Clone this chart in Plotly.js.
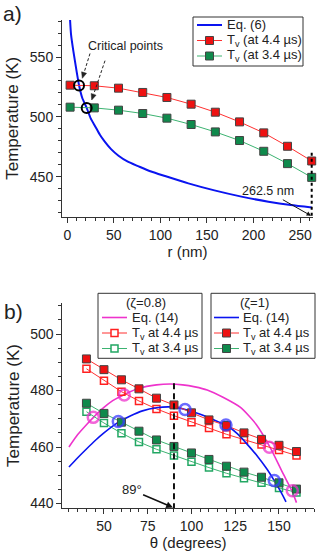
<!DOCTYPE html>
<html>
<head>
<meta charset="utf-8">
<script src="https://cdn.plot.ly/plotly-3.0.1.min.js"></script>
<style>
html,body{margin:0;padding:0;background:#fff;}
#chart{width:319px;height:554px;}
</style>
</head>
<body>
<div id="chart"></div>
<script>
// ---------- Panel a data ----------
const rA = [3, 29, 55, 81, 107, 133, 159, 185, 211, 236.5, 262.5];
const tv44A = [526.5, 526, 524, 520.4, 516.2, 510.6, 503.9, 495.8, 486.6, 475.4, 463.1];
const tv34A = [508.1, 507.5, 505.6, 502.8, 498.9, 493.6, 487.4, 480.2, 471.2, 460.9, 449.4];
const eq6R = [2.6, 4, 6.5, 10, 12.6, 16, 20.8, 25, 30, 35, 40, 47, 55, 65, 76, 90, 105, 130, 158, 187, 216, 240, 262.5];
const eq6T = [586, 569, 555, 538, 526.5, 516, 507.5, 499, 492, 485, 479.5, 473, 467.5, 462.5, 458.8, 454.3, 450.5, 444.4, 438.5, 433.3, 429, 426.2, 424.2];
const critR = [12.6, 20.8];
const critT = [526.3, 507.5];

// ---------- Panel b data ----------
const thetaB = [40, 50, 60, 70, 80, 90, 100, 110, 120, 130, 140, 150, 160];
const tv44Z1 = [491.2, 487.4, 483.8, 480.6, 477.3, 474.9, 472.1, 469.6, 467.6, 465.0, 462.7, 460.6, 458.4];
const tv34Z1 = [475.5, 471.9, 468.8, 465.6, 462.5, 460.2, 457.9, 455.6, 453.2, 451.1, 449.3, 447.3, 445.1];
const tv44Z08 = [487.7, 483.5, 479.6, 476.3, 473.5, 471.1, 468.8, 466.7, 464.5, 462.6, 460.9, 458.9, 457.0];
const tv34Z08 = [472.5, 468.5, 464.9, 461.8, 459.2, 457.0, 454.8, 452.7, 450.7, 448.9, 447.3, 445.5, 443.9];
const eq14Z08Th = [30, 35, 40, 44, 50, 55, 62, 70, 80, 88, 95, 102, 109, 118, 128, 137, 145, 152, 157.5, 160];
const eq14Z08T = [460, 464.4, 467.9, 470.5, 474, 476.4, 478.7, 480.8, 482, 482.3, 482, 481.3, 480.2, 477.6, 474, 468, 459.8, 451, 444.3, 440.3];
const eq14Z1Th = [30, 35, 40, 45, 50, 58.5, 65, 72, 80, 88, 96.5, 105, 112, 120, 126, 131.5, 138, 143, 147.3, 151, 154];
const eq14Z1T = [452.9, 456.2, 459.3, 462.3, 465, 468.9, 471, 472.8, 473.9, 474.2, 473.3, 471.6, 469.8, 467.7, 464.8, 461.2, 456.5, 452.3, 448.1, 444.2, 440.6];
const circZ08Th = [43.9, 61.6, 144.5, 157.6];
const circZ08T = [470.5, 478.4, 459.9, 444.5];
const circZ1Th = [58.2, 96.3, 119.7, 147.3];
const circZ1T = [469.0, 473.3, 467.8, 448.1];

// legend labels
const legA = ['Eq. (6)', 'T<sub>v</sub> (at 4.4 µs)', 'T<sub>v</sub> (at 3.4 µs)'];
const legB = ['Eq. (14)', 'T<sub>v</sub> at 4.4 µs', 'T<sub>v</sub> at 3.4 µs'];
const legBTitles = ['(ζ=0.8)', '(ζ=1)'];

const W = 319, H = 554;
const FONT = 'Liberation Sans, Arial, sans-serif';
const TXT = '#222';
const RED_FILL = '#ee1111', RED_LINE = '#ff3030', RED_OPEN = '#ff2020';
const GRN_FILL = '#0f8a4c', GRN_LINE = '#3cb371', GRN_OPEN = '#22a763';
const BLUE = '#0a14f0', MAG = '#ee33cc';

const sqFilled = (c) => ({symbol: 'square', size: 8, color: c, line: {color: '#444', width: 1}});
const sqOpen = (c) => ({symbol: 'square-open', size: 7, color: c, line: {color: c, width: 1.5}});

const traces = [
  // Panel a
  {x: eq6R, y: eq6T, xaxis: 'x', yaxis: 'y', mode: 'lines', name: legA[0], showlegend: false,
   line: {color: BLUE, width: 2, shape: 'spline', smoothing: 0.6}},
  {x: rA, y: tv44A, xaxis: 'x', yaxis: 'y', mode: 'lines+markers', name: legA[1], showlegend: false,
   line: {color: RED_LINE, width: 1}, marker: sqFilled(RED_FILL), cliponaxis: false},
  {x: rA, y: tv34A, xaxis: 'x', yaxis: 'y', mode: 'lines+markers', name: legA[2], showlegend: false,
   line: {color: GRN_LINE, width: 1}, marker: sqFilled(GRN_FILL), cliponaxis: false},
  {x: critR, y: critT, xaxis: 'x', yaxis: 'y', mode: 'markers', showlegend: false, name: 'critical points',
   marker: {symbol: 'circle-open', size: 10, color: '#000', line: {color: '#000', width: 2}}},

  // Panel b, zeta = 0.8
  {x: eq14Z08Th, y: eq14Z08T, xaxis: 'x2', yaxis: 'y2', mode: 'lines', name: legB[0], showlegend: false,
   line: {color: MAG, width: 1.6, shape: 'spline', smoothing: 0.6}},
  {x: thetaB, y: tv44Z08, xaxis: 'x2', yaxis: 'y2', mode: 'lines+markers', name: legB[1], showlegend: false,
   line: {color: RED_LINE, width: 1}, marker: sqOpen(RED_OPEN)},
  {x: thetaB, y: tv34Z08, xaxis: 'x2', yaxis: 'y2', mode: 'lines+markers', name: legB[2], showlegend: false,
   line: {color: GRN_LINE, width: 1}, marker: sqOpen(GRN_OPEN)},
  // Panel b, zeta = 1
  {x: eq14Z1Th, y: eq14Z1T, xaxis: 'x2', yaxis: 'y2', mode: 'lines', name: legB[0], showlegend: false,
   line: {color: BLUE, width: 1.6, shape: 'spline', smoothing: 0.6}},
  {x: thetaB, y: tv44Z1, xaxis: 'x2', yaxis: 'y2', mode: 'lines+markers', name: legB[1], showlegend: false,
   line: {color: RED_LINE, width: 1}, marker: sqFilled(RED_FILL)},
  {x: thetaB, y: tv34Z1, xaxis: 'x2', yaxis: 'y2', mode: 'lines+markers', name: legB[2], showlegend: false,
   line: {color: GRN_LINE, width: 1}, marker: sqFilled(GRN_FILL)},
  {x: circZ08Th, y: circZ08T, xaxis: 'x2', yaxis: 'y2', mode: 'markers', showlegend: false,
   marker: {symbol: 'circle-open', size: 11, color: MAG, opacity: 0.75, line: {color: MAG, width: 2.5}}},
  {x: circZ1Th, y: circZ1T, xaxis: 'x2', yaxis: 'y2', mode: 'markers', showlegend: false,
   marker: {symbol: 'circle-open', size: 11, color: '#3a3aff', opacity: 0.75, line: {color: '#3a3aff', width: 2.5}}}
];

function axis(extra) {
  return Object.assign({
    showline: true, linecolor: '#333', linewidth: 1, mirror: false,
    ticks: 'outside', ticklen: 5, tickwidth: 1, tickcolor: '#333',
    showgrid: false, zeroline: false,
    tickfont: {family: FONT, size: 14, color: TXT}
  }, extra);
}
function minor(d) {
  return {dtick: d, ticks: 'outside', ticklen: 3, tickwidth: 1, tickcolor: '#333', showgrid: false};
}

// pixel -> paper helpers for decorations
const PX = (x) => x / W;
const PY = (y) => 1 - y / H;

const shapes = [];
const annotations = [];

function pline(x0, y0, x1, y1, color, width, dash) {
  shapes.push({type: 'line', xref: 'paper', yref: 'paper', x0: PX(x0), y0: PY(y0), x1: PX(x1), y1: PY(y1),
    line: {color: color, width: width, dash: dash || 'solid'}});
}
function prect(x0, y0, x1, y1, lineColor, lineWidth, fill) {
  shapes.push({type: 'rect', xref: 'paper', yref: 'paper', x0: PX(x0), y0: PY(y0), x1: PX(x1), y1: PY(y1),
    line: {color: lineColor, width: lineWidth}, fillcolor: fill || 'rgba(0,0,0,0)'});
}
function ptext(x, y, text, size, xanchor) {
  annotations.push({xref: 'paper', yref: 'paper', x: PX(x), y: PY(y), text: text, showarrow: false,
    xanchor: xanchor || 'left', yanchor: 'middle', borderpad: 0, font: {family: FONT, size: size, color: TXT}});
}
function arrowHead(tx, ty, hx, hy, len, hw, color) {
  const dx = hx - tx, dy = hy - ty, L = Math.hypot(dx, dy);
  const ux = dx / L, uy = dy / L;
  const bx = hx - ux * len, by = hy - uy * len;
  const p1 = [bx - uy * hw, by + ux * hw], p2 = [bx + uy * hw, by - ux * hw];
  shapes.push({type: 'path', xref: 'paper', yref: 'paper', fillcolor: color, line: {color: color, width: 0.5},
    path: `M ${PX(hx)} ${PY(hy)} L ${PX(p1[0])} ${PY(p1[1])} L ${PX(p2[0])} ${PY(p2[1])} Z`});
  return [bx, by];
}
function dashedArrow(tx, ty, hx, hy) {
  const b = arrowHead(tx, ty, hx, hy, 6, 2.6, '#222');
  pline(tx, ty, b[0], b[1], '#222', 1, '3px,2px');
}
function legendSymbol(x0, x1, y, lineColor, lineWidth, marker) {
  pline(x0, y, x1, y, lineColor, lineWidth);
  if (marker) {
    const cx = (x0 + x1) / 2, s = marker.size / 2;
    prect(cx - s, y - s, cx + s, y + s, marker.edge, marker.edgeWidth, marker.fill);
  }
}

// ---- Legend, panel a ----
prect(193, 17, 303, 66, '#333', 1, '#fff');
legendSymbol(197, 222, 25, BLUE, 2, null);
legendSymbol(197, 222, 40.5, RED_LINE, 1, {size: 8, fill: RED_FILL, edge: '#444', edgeWidth: 1});
legendSymbol(197, 222, 56, GRN_LINE, 1, {size: 8, fill: GRN_FILL, edge: '#444', edgeWidth: 1});
ptext(226, 25, legA[0], 13);
ptext(226, 40.5, legA[1], 13);
ptext(226, 56, legA[2], 13);

// ---- Legends, panel b ----
const rowsB = [317.5, 333, 348.5];
// zeta = 0.8
prect(98, 293.3, 202, 358.3, '#333', 1, '#fff');
ptext(146, 302.5, legBTitles[0], 13, 'center');
legendSymbol(102, 127, rowsB[0], MAG, 1.6, null);
legendSymbol(102, 127, rowsB[1], RED_LINE, 1, {size: 7, fill: '#fff', edge: RED_OPEN, edgeWidth: 1.5});
legendSymbol(102, 127, rowsB[2], GRN_LINE, 1, {size: 7, fill: '#fff', edge: GRN_OPEN, edgeWidth: 1.5});
ptext(131, rowsB[0], legB[0], 13);
ptext(131, rowsB[1], legB[1], 13);
ptext(131, rowsB[2], legB[2], 13);
// zeta = 1
prect(211, 293.3, 315, 358.3, '#333', 1, '#fff');
ptext(255, 302.5, legBTitles[1], 13, 'center');
legendSymbol(214, 239, rowsB[0], BLUE, 1.6, null);
legendSymbol(214, 239, rowsB[1], RED_LINE, 1, {size: 8, fill: RED_FILL, edge: '#444', edgeWidth: 1});
legendSymbol(214, 239, rowsB[2], GRN_LINE, 1, {size: 8, fill: GRN_FILL, edge: '#444', edgeWidth: 1});
ptext(242, rowsB[0], legB[0], 13);
ptext(242, rowsB[1], legB[1], 13);
ptext(242, rowsB[2], legB[2], 13);

// ---- Panel labels ----
ptext(2, 13, 'a)', 21);
ptext(3, 311, 'b)', 21);

// ---- Critical points ----
ptext(125.5, 46, 'Critical points', 12.5, 'center');
dashedArrow(90, 53.5, 82.3, 78.3);
dashedArrow(105, 60.7, 91.7, 100);

// data-space decorations
shapes.push({type: 'line', xref: 'x', yref: 'y', x0: 262.5, y0: 470, x1: 262.5, y1: 416.5,
  line: {color: '#000', width: 2, dash: 'dot'}});
shapes.push({type: 'line', xref: 'x2', yref: 'y2', x0: 90, y0: 482.6, x1: 90, y1: 438.4,
  line: {color: '#111', width: 2, dash: '6px,4px'}});
annotations.push({xref: 'x', yref: 'y', axref: 'x', ayref: 'y', x: 261.8, y: 417.3, ax: 215.4, ay: 437.8,
  text: '262.5 nm', showarrow: true, arrowhead: 2, arrowsize: 0.9, arrowwidth: 1, arrowcolor: '#111',
  font: {family: FONT, size: 12.5, color: TXT}});
annotations.push({xref: 'x2', yref: 'y2', axref: 'x2', ayref: 'y2', x: 89.4, y: 438.6, ax: 65.8, ay: 444.8,
  text: '89°', showarrow: true, arrowhead: 2, arrowsize: 0.9, arrowwidth: 1.5, arrowcolor: '#111',
  font: {family: FONT, size: 13, color: TXT}});

const layout = {
  width: W, height: H,
  margin: {l: 0, r: 0, t: 0, b: 0},
  showlegend: false,
  paper_bgcolor: '#fff', plot_bgcolor: 'rgba(0,0,0,0)',
  font: {family: FONT, color: TXT},
  xaxis: axis({domain: [62/W, 313/W], range: [-5.7, 263.9], dtick: 50, tick0: 0, minor: minor(10),
    anchor: 'y', title: {text: 'r (nm)', font: {size: 15, color: TXT}, standoff: 4}}),
  yaxis: axis({domain: [(H-216.7)/H, (H-20)/H], range: [416.5, 581], dtick: 50, tick0: 0, minor: minor(10),
    anchor: 'x', title: {text: 'Temperature (K)', font: {size: 17, color: TXT}, standoff: 6}}),
  xaxis2: axis({domain: [62.3/W, 314/W], range: [26.2, 170], dtick: 25, tick0: 0, minor: minor(5),
    anchor: 'y2', title: {text: 'θ (degrees)', font: {size: 15, color: TXT}, standoff: 4}}),
  yaxis2: axis({domain: [(H-508)/H, (H-303)/H], range: [438.4, 511], dtick: 20, tick0: 0, minor: minor(5),
    anchor: 'x2', title: {text: 'Temperature (K)', font: {size: 17, color: TXT}, standoff: 6}}),
  shapes: shapes,
  annotations: annotations
};

Plotly.newPlot('chart', traces, layout, {staticPlot: true, displayModeBar: false});
</script>
</body>
</html>
